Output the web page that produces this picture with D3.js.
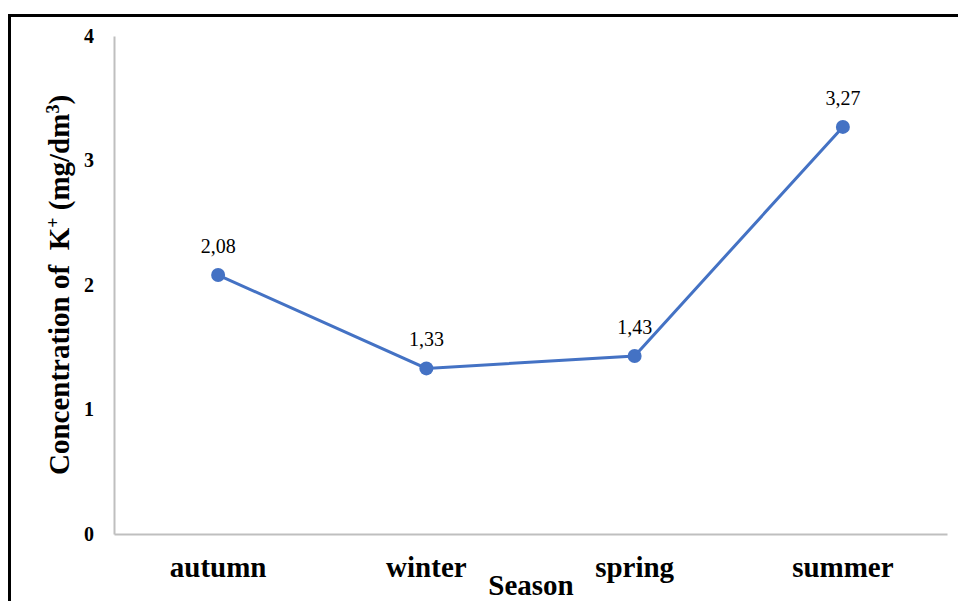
<!DOCTYPE html>
<html><head><meta charset="utf-8">
<script src="https://cdn.jsdelivr.net/npm/d3@7"></script>
<style>body{margin:0;background:#fff;}svg{display:block;}</style>
</head><body>
<svg id="c" width="958" height="601"></svg>
<script>
const seasons = ["autumn", "winter", "spring", "summer"];
const values = [2.08, 1.33, 1.43, 3.27];
const valueLabels = ["2,08", "1,33", "1,43", "3,27"];
const yTicks = [0, 1, 2, 3, 4];

const svg = d3.select("#c");
const W = 958, H = 601;
const serif = "Liberation Serif, Times New Roman, serif";

// outer frame (only top & left visible)
svg.append("line").attr("x1", 9.5).attr("x2", 9.5).attr("y1", 15.5).attr("y2", H).attr("stroke", "#000").attr("stroke-width", 3);
svg.append("line").attr("x1", 8).attr("x2", W).attr("y1", 15.5).attr("y2", 15.5).attr("stroke", "#000").attr("stroke-width", 3);

const x0 = 114, x1 = 947, y0 = 534, y1 = 36;
const x = d3.scaleBand().domain(seasons).range([x0, x1]);
const y = d3.scaleLinear().domain([0, 4]).range([y0, y1]);

// y axis
const gy = svg.append("g").attr("transform", `translate(${x0},0)`)
  .call(d3.axisLeft(y).tickValues(yTicks).tickSize(0).tickPadding(20).tickFormat(d3.format("d")));
gy.attr("font-family", serif);
gy.select(".domain").attr("stroke", "#bfbfbf").attr("stroke-width", 2);
gy.selectAll("text").attr("font-family", serif).attr("font-weight", "bold").attr("font-size", 20).attr("fill", "#000");

// x axis
const gx = svg.append("g").attr("transform", `translate(0,${y0})`)
  .call(d3.axisBottom(x).tickSize(0).tickPadding(22));
gx.attr("font-family", serif);
gx.select(".domain").attr("stroke", "#bfbfbf").attr("stroke-width", 2);
gx.selectAll("text").attr("font-family", serif).attr("font-weight", "bold").attr("font-size", 29).attr("fill", "#000");

// line
const pts = seasons.map((s, i) => [x(s) + x.bandwidth() / 2, y(values[i])]);
svg.append("path").attr("d", d3.line()(pts)).attr("fill", "none").attr("stroke", "#4472C4").attr("stroke-width", 3);
svg.selectAll("circle.pt").data(pts).join("circle").attr("class", "pt")
  .attr("cx", d => d[0]).attr("cy", d => d[1]).attr("r", 7).attr("fill", "#4472C4");

// data labels
svg.selectAll("text.lbl").data(pts).join("text").attr("class", "lbl")
  .attr("x", d => d[0]).attr("y", d => d[1] - 22)
  .attr("text-anchor", "middle").attr("font-family", serif).attr("font-size", 20).attr("fill", "#000")
  .text((d, i) => valueLabels[i]);

// x title
svg.append("text").attr("x", 531).attr("y", 595).attr("text-anchor", "middle")
  .attr("font-family", serif).attr("font-weight", "bold").attr("font-size", 29).attr("fill", "#000").text("Season");

// y title
const yt = svg.append("text").attr("transform", "translate(69,285) rotate(-90)").attr("text-anchor", "middle")
  .attr("font-family", serif).attr("font-weight", "bold").attr("font-size", 29).attr("fill", "#000")
  .style("white-space", "pre");
yt.append("tspan").text("Concentration of  K");
yt.append("tspan").attr("dy", -10).attr("font-size", 18).text("+");
yt.append("tspan").attr("dy", 10).text(" (mg/dm");
yt.append("tspan").attr("dy", -10).attr("font-size", 18).text("3");
yt.append("tspan").attr("dy", 10).text(")");
</script>
</body></html>
